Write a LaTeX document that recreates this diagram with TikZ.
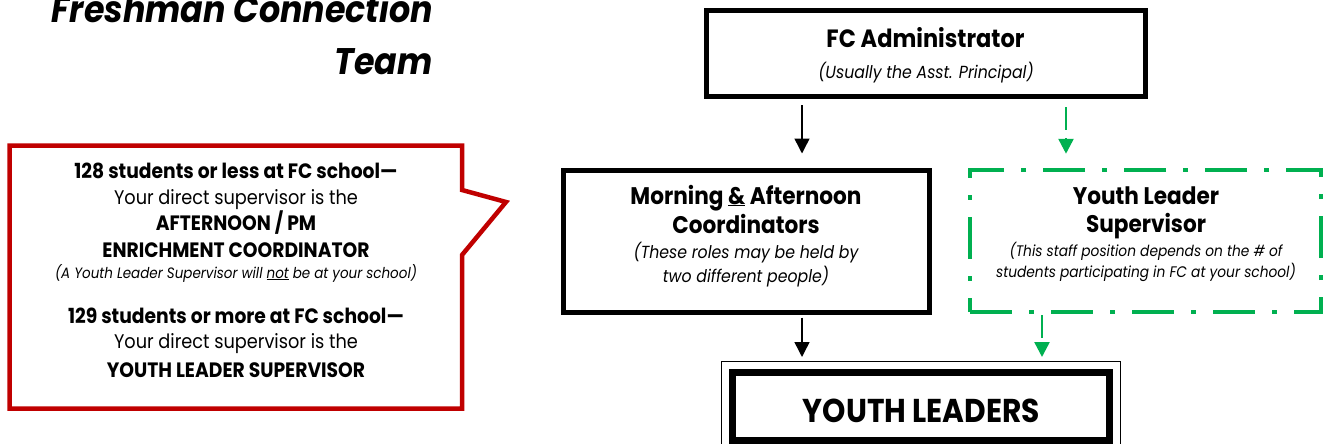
\documentclass[tikz,border=0pt]{standalone}
\usepackage{fontspec}
\setmainfont{Poppins}[FakeStretch=0.9]
\usetikzlibrary{arrows.meta}
\definecolor{fcred}{HTML}{C00000}
\definecolor{fcgreen}{HTML}{00B050}
\newcommand\fsz[1]{\fontsize{#1}{#1}\selectfont}
\begin{document}
\begin{tikzpicture}[x=1pt,y=-1pt,
  blackbox/.style={draw=black,line width=5pt,rectangle,inner sep=0pt},
  greenbox/.style={draw=fcgreen,line width=4.5pt,rectangle,inner sep=0pt,
    dash pattern=on 42pt off 17pt on 5pt off 17pt},
  blackarr/.style={draw=black,line width=1.5pt,-{Triangle[width=15pt,length=15pt]}},
  greenarr/.style={draw=fcgreen,line width=2.5pt,dash pattern=on 23pt off 8pt,
    -{Triangle[width=15pt,length=15pt]}},
  txt/.style={anchor=base,inner sep=0pt},
  btxt/.style={txt,font=\bfseries\fsz{20.8}},
  rtxt/.style={txt,font=\fsz{19.7}},
  itxt/.style={txt,font=\itshape\fsz{15}},
  hb/.style={txt,font=\bfseries\fsz{24}},
]
\useasboundingbox (0,0) rectangle (1326,444);
\fill[white] (0,0) rectangle (1326,444);

% title
\node[anchor=base east,inner sep=0pt,font=\bfseries\itshape\fsz{37}] (t1) at (433,23) {Freshman Connection};
\node[anchor=base east,inner sep=0pt,font=\bfseries\itshape\fsz{37}] (t2) at (433,75) {Team};

% boxes
\node[blackbox,minimum width=439pt,minimum height=85.5pt] (admin) at (925.5,53.75) {};
\node[hb,font=\bfseries\fsz{25}] (admin1) at (925.5,48) {FC Administrator};
\node[txt,font=\itshape\fsz{17.5}] (admin2) at (926,78) {(Usually the Asst. Principal)};

\node[blackbox,minimum width=366pt,minimum height=142pt] (coord) at (746,241) {};
\node[hb] (coord1) at (746,204) {Morning \underline{\&} Afternoon};
\node[hb] (coord2) at (746,233) {Coordinators};
\node[txt,font=\itshape\fsz{17.5}] (coord3) at (746,258) {(These roles may be held by};
\node[txt,font=\itshape\fsz{17.5}] (coord4) at (746,282) {two different people)};

\node[greenbox,minimum width=351pt,minimum height=142pt] (yls) at (1145.5,241) {};
\node[hb] (yls1) at (1146,204) {Youth Leader};
\node[hb] (yls2) at (1146,232) {Supervisor};
\node[txt,font=\itshape\fsz{15.3}] (yls3) at (1146,256) {(This staff position depends on the \# of};
\node[txt,font=\itshape\fsz{15.3}] (yls4) at (1146,277) {students participating in FC at your school)};

\node[draw=black,line width=7pt,minimum width=377pt,minimum height=68pt,inner sep=0pt] (yl) at (921,406.5) {};
\draw[line width=1pt] ([shift={(-7.5,-7.5)}]yl.north west) rectangle ([shift={(7.5,7.5)}]yl.south east);
\node[txt,font=\bfseries\fsz{33}] (yl1) at (921.5,422) {YOUTH LEADERS};

% connectors
\coordinate (ax) at (802,0);
\coordinate (gx1) at (1066,0);
\coordinate (gx2) at (1042,0);
\draw[blackarr,shorten <=6pt,shorten >=14pt] (admin.south -| ax) -- (coord.north -| ax);
\draw[blackarr,shorten <=3pt,shorten >=12pt] (coord.south -| ax) -- (yl.north -| ax);
\draw[greenarr,shorten <=8pt,shorten >=14pt] (admin.south -| gx1) -- (yls.north -| gx1);
\draw[greenarr,shorten <=1pt,shorten >=12pt] (yls.south -| gx2) -- (yl.north -| gx2);

% callout
\draw[fcred,line width=4.5pt,line join=miter]
  (9.5,145.5) -- (462,145.5) -- (462,190) -- (506,202) -- (462,255) -- (462,408.5) -- (9.5,408.5) -- cycle;
\node[btxt] (c1) at (236,178) {128 students or less at FC school—};
\node[rtxt] (c2) at (236,204) {Your direct supervisor is the};
\node[btxt] (c3) at (236,230) {AFTERNOON / PM};
\node[btxt] (c4) at (236,257) {ENRICHMENT COORDINATOR};
\node[itxt] (c5) at (236,278) {(A Youth Leader Supervisor will \underline{not} be at your school)};
\node[btxt] (c6) at (236,323) {129 students or more at FC school—};
\node[rtxt] (c7) at (236,348) {Your direct supervisor is the};
\node[btxt] (c8) at (236,377) {YOUTH LEADER SUPERVISOR};
\end{tikzpicture}
\end{document}
